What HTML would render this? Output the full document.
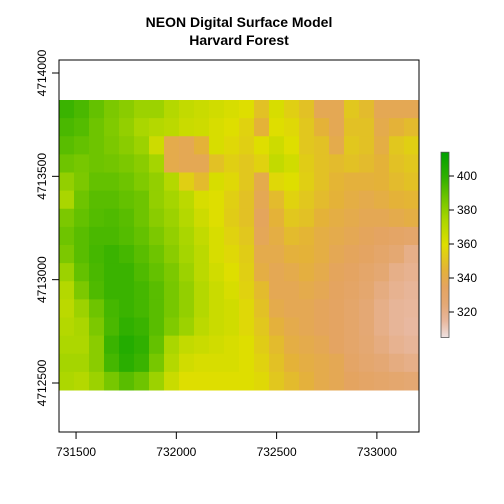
<!DOCTYPE html>
<html><head><meta charset="utf-8"><style>
body{margin:0;background:#fff;}
svg{display:block;font-family:"Liberation Sans",Arial,sans-serif;}
</style></head><body>
<svg id="chart" width="504" height="504" viewBox="0 0 504 504">
<text x="239" y="27" text-anchor="middle" font-weight="bold" font-size="14">NEON Digital Surface Model</text>
<text x="239" y="45" text-anchor="middle" font-weight="bold" font-size="14">Harvard Forest</text>
<g id="raster"></g>
<rect x="59" y="60" width="360" height="372" fill="none" stroke="#000" stroke-width="1"/>
<g id="xaxis"></g>
<g id="yaxis"></g>
<defs><linearGradient id="lg" x1="0" y1="1" x2="0" y2="0"></linearGradient></defs>
<g id="legend"></g>
</svg>
<script>
const xTicks=[731500,732000,732500,733000];
const yTicks=[4712500,4713000,4713500,4714000];
const legendTicks=[320,340,360,380,400];
const gridRows=[
[398,395,390,385,382,378,378,372,368,366,364,362,360,350,362,355,350,338,338,352,348,338,338,338],
[395,393,388,384,380,375,372,370,366,365,362,360,356,345,360,358,352,345,338,350,350,340,345,348],
[392,390,388,385,382,378,365,340,338,345,362,358,355,360,365,360,352,350,340,352,350,342,352,355],
[388,386,388,387,385,382,376,340,338,338,350,355,352,356,368,364,354,350,348,350,348,345,350,352],
[380,385,390,390,388,384,380,372,355,348,362,358,352,340,358,360,355,350,346,344,344,345,348,350],
[375,388,392,392,390,388,380,376,370,362,360,355,350,338,348,356,352,348,345,342,340,342,345,346],
[385,390,393,394,392,388,382,378,372,365,360,354,350,336,345,352,350,345,342,340,338,338,340,342],
[388,392,395,395,393,390,385,380,375,368,362,356,352,337,342,348,346,342,340,338,336,334,332,330],
[385,392,396,398,396,392,388,382,376,370,362,358,354,340,340,344,345,342,338,336,334,330,326,320],
[378,390,395,398,398,394,390,385,378,370,364,360,355,342,338,340,343,340,336,334,330,326,320,318],
[372,385,394,398,398,396,392,386,380,372,366,362,356,348,338,338,340,338,335,332,328,322,318,316],
[370,378,388,396,398,396,392,386,380,372,366,364,358,350,340,338,338,336,334,330,325,320,316,315],
[372,375,385,395,400,398,392,384,378,370,366,364,358,352,344,340,338,336,334,330,325,320,316,314],
[374,374,382,398,404,400,390,375,368,366,364,362,360,354,348,342,340,338,334,330,326,322,318,316],
[376,376,382,396,402,398,386,372,364,362,362,362,360,356,350,345,342,340,338,332,328,325,322,320],
[374,372,378,386,392,388,378,366,360,360,360,360,360,358,352,348,344,340,338,335,332,330,328,326]
];
const NS="http://www.w3.org/2000/svg";
const xMin=731415,xMax=733210;
function sx(v){return 59+(v-xMin)/(xMax-xMin)*360;}
function sy(v){return 383-(v-4712500)/1500*310;}
const stops=[[305,[238,226,226]],[314,[232,184,160]],[325,[228,168,116]],[335,[228,164,96]],[345,[228,178,56]],[360,[222,222,0]],[375,[170,214,0]],[388,[110,196,0]],[400,[48,176,0]],[415,[0,160,0]]];
function rgb(c){return "rgb("+c.map(Math.round).join(",")+")";}
function col(v){
  if(v<=stops[0][0])return rgb(stops[0][1]);
  for(let i=1;i<stops.length;i++){if(v<=stops[i][0]){const a=stops[i-1],b=stops[i],t=(v-a[0])/(b[0]-a[0]);return rgb(a[1].map((c,k)=>c+(b[1][k]-c)*t));}}
  return rgb(stops[stops.length-1][1]);
}
function el(t,a,p){const e=document.createElementNS(NS,t);for(const k in a)e.setAttribute(k,a[k]);p.appendChild(e);return e;}
const rg=document.getElementById('raster');
const nR=gridRows.length,nC=gridRows[0].length;
const rTop=100,rBot=390,rLeft=59,rRight=419;
const cw=(rRight-rLeft)/nC,ch=(rBot-rTop)/nR;
gridRows.forEach((row,r)=>row.forEach((v,c)=>{
  const e=el('rect',{x:rLeft+c*cw,y:rTop+r*ch,width:cw+0.5,height:ch+0.5,fill:col(v)},rg);
  
  
}));
const xa=document.getElementById('xaxis');
xTicks.forEach(t=>{
  const x=sx(t);
  el('line',{x1:x,x2:x,y1:432,y2:439,stroke:'#000'},xa);
  const tx=el('text',{x:x,y:456,'text-anchor':'middle','font-size':12},xa);
  tx.textContent=t;
  
  
});
const ya=document.getElementById('yaxis');
yTicks.forEach(t=>{
  const y=sy(t);
  el('line',{x1:52,x2:59,y1:y,y2:y,stroke:'#000'},ya);
  const tx=el('text',{x:46,y:y,'text-anchor':'middle','font-size':12,transform:'rotate(-90 46 '+y+')'},ya);
  tx.textContent=t;
  
  
});
const lgd=document.getElementById('lg');
for(let v=305;v<=415;v+=5){el('stop',{offset:((v-305)/110),'stop-color':col(v)},lgd);}
const lg=document.getElementById('legend');
const lv2y=v=>312-(v-320)*1.7;
el('rect',{x:441,y:lv2y(414),width:8,height:lv2y(305)-lv2y(414),fill:'url(#lg)',stroke:'#555','stroke-width':0.8},lg);
legendTicks.forEach(t=>{
  const y=lv2y(t);
  el('line',{x1:449,x2:454,y1:y,y2:y,stroke:'#000'},lg);
  const tx=el('text',{x:457,y:y+4,'font-size':12},lg);
  tx.textContent=t;
  
  
});
</script>
</body></html>
